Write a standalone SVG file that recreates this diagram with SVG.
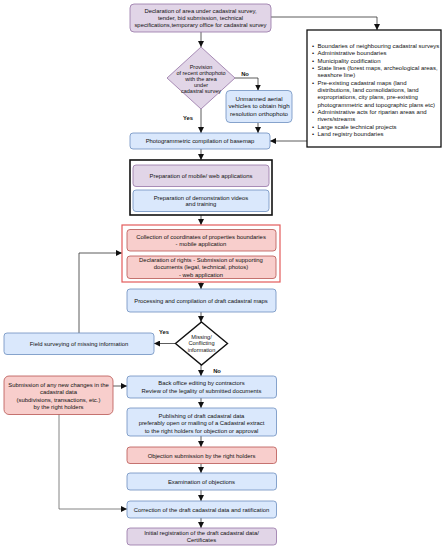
<svg xmlns="http://www.w3.org/2000/svg" width="445" height="550" viewBox="0 0 445 550">
<style>
text{font-family:"Liberation Sans",Arial,sans-serif;font-size:5.9px;fill:#111;text-anchor:middle}
.p{fill:#e1d5e7;stroke:#9673a6;stroke-width:0.8}
.b{fill:#dae8fc;stroke:#6c8ebf;stroke-width:0.8}
.r{fill:#f8cecc;stroke:#b85450;stroke-width:0.8}
.c{fill:none;stroke:#333;stroke-width:0.8}
.lbl{font-size:5.8px;font-weight:bold}
.lt{text-anchor:start;font-size:6px}
</style>
<defs>
<marker id="a" viewBox="0 0 6 6" refX="6" refY="3" markerWidth="6" markerHeight="6" markerUnits="userSpaceOnUse" orient="auto">
<path d="M0,0 L6,3 L0,6 Z" fill="#111"/>
</marker>
</defs>
<rect width="445" height="550" fill="#fff"/>
<g id="connectors">
<path class="c" d="M271,17 H377 V30" marker-end="url(#a)"/>
<path class="c" d="M201,32 V47" marker-end="url(#a)"/>
<path class="c" d="M235,78 H258 V90.5" marker-end="url(#a)"/>
<path class="c" d="M201,109 V133" marker-end="url(#a)"/>
<path class="c" d="M258,123 V133" marker-end="url(#a)"/>
<path class="c" d="M307,141 H270" marker-end="url(#a)"/>
<path class="c" d="M201,149 V160" marker-end="url(#a)"/>
<path class="c" d="M201,215 V225" marker-end="url(#a)"/>
<path class="c" d="M201,251 V256" style="stroke:#999"/>
<path class="c" d="M201,282 V289" marker-end="url(#a)"/>
<path class="c" d="M201,312 V322" marker-end="url(#a)"/>
<path class="c" d="M176,343.5 H154" marker-end="url(#a)"/>
<path class="c" d="M79,333 V253 H122" marker-end="url(#a)"/>
<path class="c" d="M201,365 V376" marker-end="url(#a)"/>
<path class="c" d="M113,386 H127" marker-end="url(#a)"/>
<path class="c" d="M201,398 V408" marker-end="url(#a)"/>
<path class="c" d="M201,436 V447" marker-end="url(#a)"/>
<path class="c" d="M201,463.5 V473" marker-end="url(#a)"/>
<path class="c" d="M201,490 V501" marker-end="url(#a)"/>
<path class="c" d="M59,414 V509 H127" style="stroke:#666" marker-end="url(#a)"/>
<path class="c" d="M201,518 V528" marker-end="url(#a)"/>
<text class="lbl" x="245" y="76">No</text>
<text class="lbl" x="188" y="119.5">Yes</text>
<text class="lbl" x="164" y="334">Yes</text>
<text class="lbl" x="217" y="372.5">No</text>
</g>
<g id="n-declaration">
<rect class="p" x="130" y="4" width="141" height="28" rx="4"/>
<text x="200.5" y="12.5"><tspan x="200.5">Declaration of area under cadastral survey,</tspan><tspan x="200.5" dy="7">tender, bid submission, technical</tspan><tspan x="200.5" dy="7">specifications,temporary office for cadastral survey</tspan></text>
</g>
<g id="n-sources">
<rect x="307" y="30" width="134" height="117" fill="#fff" stroke="#111" stroke-width="1.3"/>
<text class="lt" x="312" y="48">•</text><text class="lt" x="317.5" y="48">Boundaries of neighbouring cadastral surveys</text>
<text class="lt" x="312" y="55.3">•</text><text class="lt" x="317.5" y="55.3">Administrative boundaries</text>
<text class="lt" x="312" y="62.6">•</text><text class="lt" x="317.5" y="62.6">Municipality codification</text>
<text class="lt" x="312" y="70">•</text><text class="lt" x="317.5" y="70">State lines (forest maps, archeological areas,</text>
<text class="lt" x="317.5" y="77.3">seashore line)</text>
<text class="lt" x="312" y="84.6">•</text><text class="lt" x="317.5" y="84.6">Pre-existing cadastral maps (land</text>
<text class="lt" x="317.5" y="91.9">distributions, land consolidations, land</text>
<text class="lt" x="317.5" y="99.2">expropriations, city plans, pre-existing</text>
<text class="lt" x="317.5" y="106.5">photogrammetric and topographic plans etc)</text>
<text class="lt" x="312" y="114">•</text><text class="lt" x="317.5" y="114">Administrative acts for riparian areas and</text>
<text class="lt" x="317.5" y="121.3">rivers/streams</text>
<text class="lt" x="312" y="128.6">•</text><text class="lt" x="317.5" y="128.6">Large scale technical projects</text>
<text class="lt" x="312" y="136">•</text><text class="lt" x="317.5" y="136">Land registry boundaries</text>
</g>
<g id="n-orthophoto">
<polygon class="p" points="201,47 235,78 201,109 167,78"/>
<text x="201" y="69" style="font-size:5.5px"><tspan x="201">Provision</tspan><tspan x="201" dy="6">of recent orthophoto</tspan><tspan x="201" dy="6">with the area</tspan><tspan x="201" dy="6">under</tspan><tspan x="201" dy="6">cadastral survey</tspan></text>
</g>
<g id="n-uav">
<rect class="b" x="226" y="90.5" width="66" height="32" rx="4"/>
<text x="259" y="101" style="font-size:6.2px"><tspan x="259">Unmanned aerial</tspan><tspan x="259" dy="7.3">vehicles to obtain high</tspan><tspan x="259" dy="7.3">resolution orthophoto</tspan></text>
</g>
<g id="n-basemap">
<rect class="b" x="130" y="133" width="140" height="16" rx="3"/>
<text x="200" y="143">Photogrammetric compilation of basemap</text>
</g>
<g id="n-prep">
<rect x="130" y="160" width="142" height="55" fill="#fff" stroke="#111" stroke-width="1.6"/>
<rect class="p" x="133" y="165" width="136" height="21.5" rx="3"/>
<text x="201" y="178">Preparation of mobile/ web applications</text>
<rect class="b" x="133" y="190" width="136" height="21.5" rx="3"/>
<text x="201" y="199.5"><tspan x="201">Preparation of demonstration videos</tspan><tspan x="201" dy="6.5">and training</tspan></text>
</g>
<g id="n-collection">
<rect x="122" y="225" width="158" height="57" fill="#fff" stroke="#e35b5b" stroke-width="1.2"/>
<rect class="r" x="127" y="229.5" width="149" height="21.5" rx="3"/>
<text x="201" y="238.5"><tspan x="201">Collection of coordinates of properties boundaries</tspan><tspan x="201" dy="7.2">- mobile application</tspan></text>
<rect class="r" x="127" y="256" width="149" height="22.5" rx="3"/>
<text x="201" y="262"><tspan x="201">Declaration of rights - Submission of supporting</tspan><tspan x="201" dy="7.3">documents (legal, technical, photos)</tspan><tspan x="201" dy="7.3">- web application</tspan></text>
</g>
<g id="n-processing">
<rect class="b" x="127" y="289" width="149" height="23" rx="3"/>
<text x="201" y="302.5">Processing and compilation of draft cadastral maps</text>
</g>
<g id="n-missing">
<polygon points="201.5,322 227.5,343.5 201.5,365 175.5,343.5" fill="#fff" stroke="#111" stroke-width="1.4"/>
<text x="201.5" y="338.5" style="font-size:5.6px"><tspan x="201.5">Missing/</tspan><tspan x="201.5" dy="6.7">Conflicting</tspan><tspan x="201.5" dy="6.7">information</tspan></text>
</g>
<g id="n-field">
<rect class="b" x="4" y="333" width="150" height="21.5" rx="3"/>
<text x="79" y="345.5">Field surveying of missing information</text>
</g>
<g id="n-submission">
<rect class="r" x="4" y="376" width="109" height="38.5" rx="5"/>
<text x="58.5" y="387"><tspan x="58.5">Submission of any new changes in the</tspan><tspan x="58.5" dy="7">cadastral data</tspan><tspan x="58.5" dy="7.6">(subdivisions, transactions, etc.)</tspan><tspan x="58.5" dy="7">by the right holders</tspan></text>
</g>
<g id="n-backoffice">
<rect class="b" x="127" y="376" width="149.5" height="22" rx="3"/>
<text x="201.5" y="385.3"><tspan x="201.5">Back office editing by contractors</tspan><tspan x="201.5" dy="7.5">Review of the legality of submitted documents</tspan></text>
</g>
<g id="n-publishing">
<rect class="b" x="127" y="408" width="149.5" height="28" rx="3"/>
<text x="201.5" y="417.7"><tspan x="201.5">Publishing of draft cadastral data</tspan><tspan x="201.5" dy="7.5">preferably open or mailing of a Cadastral extract</tspan><tspan x="201.5" dy="7.5">to the right holders for objection or approval</tspan></text>
</g>
<g id="n-objection">
<rect class="r" x="127" y="447" width="149.5" height="16.5" rx="3"/>
<text x="201.5" y="457.5">Objection submission by the right holders</text>
</g>
<g id="n-examination">
<rect class="b" x="127" y="473" width="149.5" height="17" rx="3"/>
<text x="201.5" y="483.5">Examination of objections</text>
</g>
<g id="n-correction">
<rect class="b" x="127" y="501" width="149.5" height="17" rx="3"/>
<text x="201.5" y="511.5">Correction of the draft cadastral data and ratification</text>
</g>
<g id="n-initial">
<rect class="p" x="127" y="528" width="149.5" height="17" rx="3"/>
<text x="201.5" y="535.2"><tspan x="201.5">Initial registration of the draft cadastral data/</tspan><tspan x="201.5" dy="6.8">Certificates</tspan></text>
</g>
</svg>
